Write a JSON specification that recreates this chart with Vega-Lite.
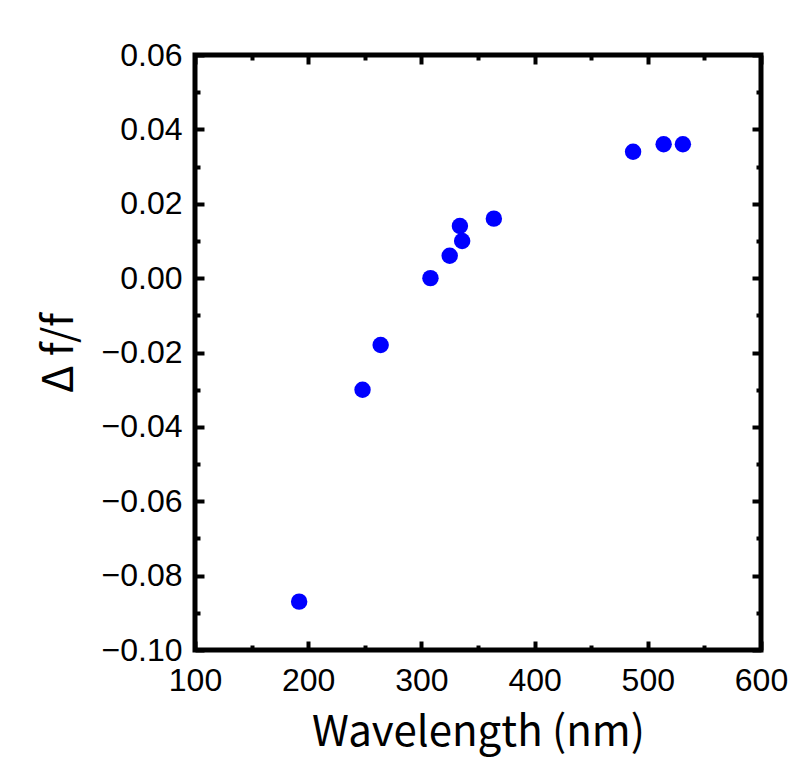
{
  "$schema": "https://vega.github.io/schema/vega-lite/v6.json",
  "autosize": "none",
  "width": 566,
  "height": 595,
  "padding": {"left": 195, "top": 55, "right": 51, "bottom": 127},
  "background": "white",
  "config": {
    "view": {"stroke": "black", "strokeWidth": 5},
    "axis": {
      "domain": false,
      "grid": false,
      "tickColor": "black",
      "tickWidth": 4,
      "labelFont": "Liberation Sans",
      "labelFontSize": 32,
      "labelColor": "black",
      "titleColor": "black",
      "titleFont": "Noto Sans CJK JP",
      "titleFontWeight": "normal",
      "titleFontSize": 42
    }
  },
  "data": {
    "values": [
      {"wavelength": 192, "df": -0.087},
      {"wavelength": 248, "df": -0.030},
      {"wavelength": 264, "df": -0.018},
      {"wavelength": 308, "df": 0.000},
      {"wavelength": 325, "df": 0.006},
      {"wavelength": 334, "df": 0.014},
      {"wavelength": 336, "df": 0.010},
      {"wavelength": 364, "df": 0.016},
      {"wavelength": 487, "df": 0.034},
      {"wavelength": 514, "df": 0.036},
      {"wavelength": 531, "df": 0.036}
    ]
  },
  "resolve": {"axis": {"x": "independent", "y": "independent"}},
  "layer": [
    {
      "mark": {"type": "point", "filled": true, "size": 270, "color": "#0000ff", "opacity": 1},
      "encoding": {
        "x": {
          "field": "wavelength", "type": "quantitative",
          "scale": {"domain": [100, 600], "nice": false, "zero": false},
          "axis": {
            "orient": "bottom",
            "title": "Wavelength (nm)",
            "values": [100, 150, 200, 250, 300, 350, 400, 450, 500, 550, 600],
            "labelExpr": "datum.value % 100 == 0 ? datum.label : ''",
            "labelFlush": false,
            "labelOverlap": false,
            "tickSize": 1,
            "labelPadding": 14,
            "titlePadding": 16,
            "encoding": {"ticks": {"y2": {"condition": {"test": "datum.value % 100 == 0", "value": -9}, "value": -5}}}
          }
        },
        "y": {
          "field": "df", "type": "quantitative",
          "scale": {"domain": [-0.10, 0.06], "nice": false, "zero": false},
          "axis": {
            "orient": "left",
            "title": "Δ f/f",
            "format": ".2f",
            "values": [-0.10, -0.09, -0.08, -0.07, -0.06, -0.05, -0.04, -0.03, -0.02, -0.01, 0.0, 0.01, 0.02, 0.03, 0.04, 0.05, 0.06],
            "labelExpr": "abs(round(datum.value * 100)) % 2 == 0 ? datum.label : ''",
            "labelFlush": false,
            "labelOverlap": false,
            "tickSize": 1,
            "labelPadding": 12,
            "titlePadding": 20,
            "encoding": {"ticks": {"x2": {"condition": {"test": "abs(round(datum.value * 100)) % 2 == 0", "value": 9}, "value": 5}}}
          }
        }
      }
    },
    {
      "mark": {"type": "point", "opacity": 0},
      "encoding": {
        "x": {
          "field": "wavelength", "type": "quantitative",
          "axis": {
            "orient": "top",
            "title": null,
            "labels": false,
            "tickSize": 1,
            "values": [100, 150, 200, 250, 300, 350, 400, 450, 500, 550, 600],
            "encoding": {"ticks": {"y2": {"condition": {"test": "datum.value % 100 == 0", "value": 9}, "value": 5}}}
          }
        },
        "y": {
          "field": "df", "type": "quantitative",
          "axis": {
            "orient": "right",
            "title": null,
            "labels": false,
            "tickSize": 1,
            "values": [-0.10, -0.09, -0.08, -0.07, -0.06, -0.05, -0.04, -0.03, -0.02, -0.01, 0.0, 0.01, 0.02, 0.03, 0.04, 0.05, 0.06],
            "encoding": {"ticks": {"x2": {"condition": {"test": "abs(round(datum.value * 100)) % 2 == 0", "value": -9}, "value": -5}}}
          }
        }
      }
    }
  ]
}
